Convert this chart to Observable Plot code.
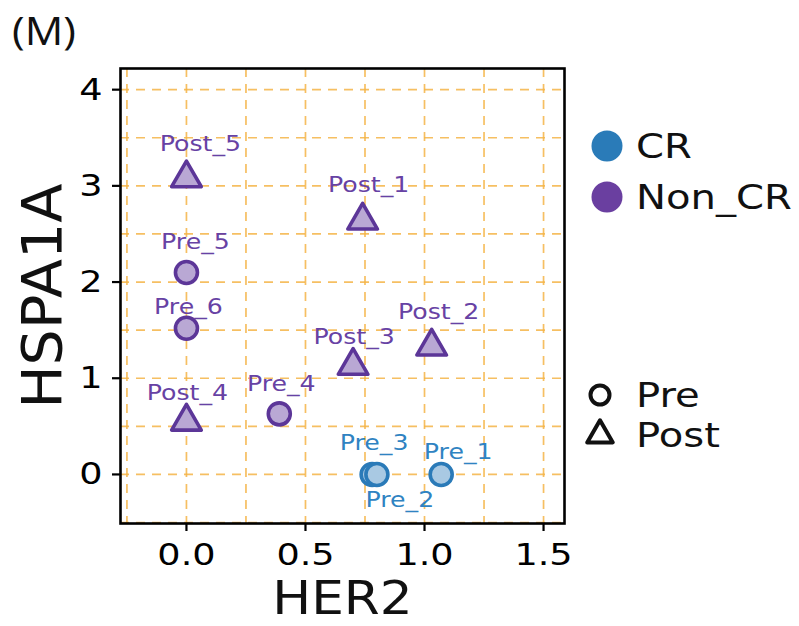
<!DOCTYPE html>
<html>
<head>
<meta charset="utf-8">
<script src="https://cdn.jsdelivr.net/npm/d3@7"></script>
<script src="https://cdn.jsdelivr.net/npm/@observablehq/plot@0.6"></script>
<style>
  html, body { margin: 0; padding: 0; background: #fff; }
  #wrap { position: relative; width: 799px; height: 626px; }
  #legend { position: absolute; left: 0; top: 0; pointer-events: none; }
</style>
</head>
<body>
<div id="wrap">
  <div id="chart"></div>
  <svg id="legend" width="799" height="626"></svg>
</div>
<script>
// ---- data ----
const samples = ["Post_5", "Post_1", "Pre_5", "Pre_6", "Post_2", "Post_3", "Pre_4", "Post_4", "Pre_3", "Pre_2", "Pre_1"];
const her2    = [0.00, 0.74, 0.00, 0.00, 1.03, 0.70, 0.39, 0.00, 0.78, 0.80, 1.07];
const hspa1a  = [3.08, 2.64, 2.10, 1.52, 1.33, 1.13, 0.63, 0.55, 0.00, 0.00, 0.00];
const response = ["Non_CR", "Non_CR", "Non_CR", "Non_CR", "Non_CR", "Non_CR", "Non_CR", "Non_CR", "CR", "CR", "CR"];
const timepoint = ["Post", "Post", "Pre", "Pre", "Post", "Post", "Pre", "Post", "Pre", "Pre", "Pre"];
const xTicks = [0, 0.5, 1.0, 1.5];
const yTicks = [0, 1, 2, 3, 4];
const responseLevels = ["CR", "Non_CR"];
const timeLevels = ["Pre", "Post"];

// ---- label layout (repelled label offsets, pixels) ----
const labelDx = [14, 6, 9, 2, 7, 1, 2, 1, 2, 23, 17];
const labelDy = [-34, -35, -30, -21, -34, -28, -30, -28, -31, 26, -22];

// ---- styles ----
const strokeCol = {CR: "#2a7ab8", Non_CR: "#5c3698"};
const fillCol   = {CR: "#a9c9e3", Non_CR: "#b9a8d4"};
const textCol   = {CR: "#2f83c2", Non_CR: "#6742a4"};

const rows = samples.map((s, i) => ({
  sample: s, x: her2[i], y: hspa1a[i], resp: response[i], time: timepoint[i],
  dx: labelDx[i], dy: labelDy[i]
}));

const gridStyle = {stroke: "#f4b447", strokeOpacity: 0.85, strokeWidth: 1.7, strokeDasharray: "9,7"};

const chart = Plot.plot({
  width: 799,
  height: 626,
  marginLeft: 120,
  marginRight: 235,
  marginTop: 68,
  marginBottom: 103,
  style: {fontFamily: "DejaVu Sans, sans-serif", background: "white", color: "black"},
  x: {domain: [-0.277, 1.588]},
  y: {domain: [-0.51, 4.22]},
  symbol: {domain: timeLevels, range: ["circle", "triangle"]},
  marks: [
    Plot.gridX(d3.range(-0.25, 1.51, 0.25), gridStyle),
    Plot.gridY(d3.range(-0.5, 4.01, 0.5), gridStyle),
    Plot.axisX({ticks: xTicks, tickFormat: d => d.toFixed(1), fontSize: 31, tickSize: 8, tickPadding: 11, strokeWidth: 2.2, label: null}),
    Plot.axisY({ticks: yTicks, tickFormat: d => String(d), fontSize: 31, tickSize: 8, tickPadding: 10, strokeWidth: 2.2, label: null}),
    Plot.dot(rows, {
      x: "x", y: "y", symbol: "time", r: 11,
      fill: d => fillCol[d.resp], stroke: d => strokeCol[d.resp],
      strokeWidth: 3.6, strokeLinejoin: "round"
    }),
    ...rows.map(d => Plot.text([d], {
      x: "x", y: "y", text: "sample", dx: d.dx, dy: d.dy,
      fill: textCol[d.resp], fontSize: 21
    })),
    Plot.frame({stroke: "black", strokeWidth: 2.6}),
    Plot.text(["HER2"], {frameAnchor: "bottom", textAnchor: "middle", lineAnchor: "middle", dy: 75, text: d => d, fontSize: 47, fill: "#111"}),
    Plot.text(["HSPA1A"], {frameAnchor: "left", textAnchor: "middle", lineAnchor: "middle", dx: -77, rotate: -90, text: d => d, fontSize: 55, fill: "#111"})
  ]
});
document.getElementById("chart").appendChild(chart);

// widen glyphs to match the reference's broader typeface
function stretch(el, size, k) {
  el.style.fontSize = size + "px";
  el.removeAttribute("textLength");
  const w = el.getComputedTextLength();
  el.setAttribute("textLength", (w * k).toFixed(1));
  el.setAttribute("lengthAdjust", "spacingAndGlyphs");
}
const tickText = new Set([...xTicks.map(d => d.toFixed(1)), ...yTicks.map(String)]);
const sampleSet = new Set(samples);
d3.select(chart).selectAll("text").each(function () {
  const t = this.textContent.trim();
  if (tickText.has(t)) stretch(this, 31, 1.18);
  else if (sampleSet.has(t)) stretch(this, 21, 1.2);
  else if (t === "HER2") stretch(this, 47, 1.1);
  else if (t === "HSPA1A") stretch(this, 55, 1.04);
});

// ---- title and legend ----
const lg = d3.select("#legend");
const title = lg.append("text").attr("x", 12).attr("y", 45)
  .attr("font-family", "Open Sans, sans-serif").attr("fill", "#111")
  .text("(M)");
stretch(title.node(), 39, 1.1);

const colorItems = responseLevels.map((r, i) => ({r, cy: 146 + i * 51}));
lg.selectAll("circle.c").data(colorItems).join("circle")
  .attr("cx", 607).attr("cy", d => d.cy).attr("r", 15.5)
  .attr("fill", d => d.r === "CR" ? "#2a7bb8" : "#6a3fa0");
lg.selectAll("text.c").data(colorItems).join("text")
  .attr("x", 636).attr("y", d => d.cy + 12)
  .attr("font-family", "DejaVu Sans, sans-serif").attr("fill", "#111")
  .text(d => d.r)
  .each(function () { stretch(this, 34, 1.18); });

const shapeItems = timeLevels.map((t, i) => ({t, cy: 395 + i * 40}));
const sym = t => d3.symbol(t === "Pre" ? d3.symbolCircle : d3.symbolTriangle, Math.PI * 9.5 * 9.5)();
lg.selectAll("path.s").data(shapeItems).join("path")
  .attr("transform", d => `translate(600,${d.cy})`)
  .attr("d", d => sym(d.t))
  .attr("fill", "none").attr("stroke", "#111").attr("stroke-width", 4).attr("stroke-linejoin", "round");
lg.selectAll("text.s").data(shapeItems).join("text")
  .attr("x", 636).attr("y", d => d.cy + 12)
  .attr("font-family", "DejaVu Sans, sans-serif").attr("fill", "#111")
  .text(d => d.t)
  .each(function () { stretch(this, 34, 1.18); });
</script>
</body>
</html>
